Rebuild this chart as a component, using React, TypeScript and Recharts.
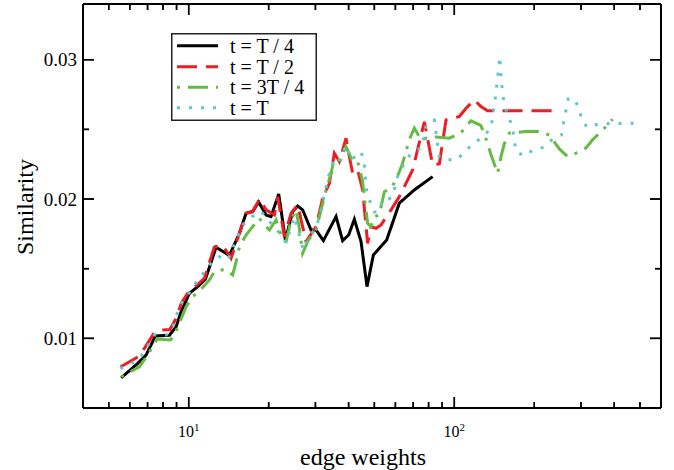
import React from 'react';
import { LineChart, Line, XAxis, YAxis, ReferenceLine } from 'recharts';

const FONT = '"Liberation Serif", "Times New Roman", Times, serif';

// t = T/4
const quarterW = [5.57, 6.43, 6.91, 7.49, 8.46, 8.97, 9.36, 10.06, 10.81, 11.56, 12.68, 14.23, 15.52, 16.44, 17.41, 18.34, 19.56, 20.42, 21.82, 23.12, 24.63, 25.72, 26.86, 28.88, 30.16, 32.14, 35.87, 37.98, 40.01, 42.04, 44.55, 46.92, 49.57, 55.63, 62.09, 70.71, 82.84];
const quarterS = [0.00717, 0.0082, 0.0088, 0.01017, 0.01022, 0.01083, 0.01191, 0.01323, 0.01371, 0.01424, 0.01654, 0.01595, 0.01754, 0.01898, 0.0191, 0.01979, 0.01886, 0.01874, 0.02037, 0.01706, 0.0191, 0.0195, 0.01922, 0.01778, 0.01778, 0.01701, 0.01874, 0.01701, 0.01742, 0.01855, 0.01694, 0.01371, 0.01598, 0.01706, 0.0197, 0.02065, 0.02161];

// t = T/2
const halfW = [5.53, 6.43, 6.81, 7.43, 7.99, 8.49, 8.97, 9.39, 9.91, 11.46, 12.49, 13.43, 14.44, 15.52, 16.44, 17.41, 18.45, 19.56, 21.02, 21.63, 22.92, 24.29, 25.72, 27.66, 28.46, 30.16, 31.94, 33.85, 35.35, 36.91, 39.11, 40.25, 41.41, 43.25, 45.17, 47.17, 48.58, 50.73, 52.98, 57.78, 62.09, 69.68, 77.12, 82.84, 87.81, 93.07, 98.54, 104.4, 110.7, 118.9, 126.0, 133.4, 248.5];
const halfS = [0.00794, 0.00866, 0.00928, 0.01042, 0.0106, 0.01063, 0.01144, 0.01254, 0.01323, 0.01431, 0.01656, 0.01667, 0.01575, 0.01754, 0.01898, 0.0191, 0.01999, 0.01922, 0.01886, 0.02017, 0.0173, 0.01898, 0.01958, 0.01694, 0.0173, 0.01802, 0.02006, 0.02113, 0.02329, 0.02269, 0.02437, 0.02305, 0.02185, 0.02209, 0.02065, 0.01682, 0.01802, 0.0179, 0.01814, 0.01922, 0.02017, 0.02209, 0.02554, 0.02245, 0.02252, 0.02568, 0.0258, 0.02592, 0.02652, 0.02712, 0.02664, 0.02633, 0.02633];

// t = 3T/4
const threeQW = [5.57, 6.52, 7.01, 7.59, 8.53, 8.84, 9.78, 10.35, 11.14, 11.97, 12.49, 13.63, 14.64, 15.08, 15.52, 16.44, 17.41, 18.45, 19.27, 20.13, 21.32, 22.58, 23.26, 24.29, 25.37, 26.1, 26.86, 28.22, 30.16, 31.5, 32.89, 34.36, 35.35, 36.91, 39.11, 41.41, 43.25, 45.04, 47.17, 48.58, 50.0, 52.2, 54.52, 57.78, 60.34, 63.88, 67.69, 70.71, 74.95, 78.27, 85.34, 95.76, 106.0, 110.7, 115.6, 125.8, 130.8, 137.5, 145.6, 149.9, 154.2, 161.1, 188.7, 208.9, 227.9, 248.5, 267.0, 295.5, 313.1, 331.5, 356.6, 383.2, 394.3];
const threeQS = [0.00724, 0.00796, 0.0088, 0.00995, 0.00988, 0.01024, 0.01227, 0.01299, 0.01352, 0.01419, 0.01478, 0.01496, 0.01455, 0.01548, 0.01658, 0.01742, 0.01802, 0.01862, 0.01814, 0.01778, 0.0185, 0.01706, 0.01694, 0.0185, 0.01922, 0.0179, 0.01611, 0.01706, 0.01778, 0.01922, 0.02065, 0.02185, 0.02293, 0.02281, 0.02376, 0.02269, 0.02269, 0.02137, 0.01826, 0.01802, 0.01874, 0.01886, 0.02053, 0.02078, 0.02137, 0.02257, 0.02425, 0.02509, 0.02425, 0.02437, 0.02446, 0.02437, 0.02475, 0.02525, 0.02561, 0.02529, 0.02448, 0.02317, 0.02185, 0.02305, 0.02396, 0.02473, 0.02486, 0.02484, 0.0246, 0.0236, 0.02305, 0.02338, 0.02367, 0.02425, 0.02484, 0.02545, 0.02573];

// t = T
const fullW = [5.53, 6.15, 6.62, 7.01, 7.43, 8.22, 8.71, 8.97, 9.36, 9.91, 10.51, 11.29, 11.97, 13.05, 14.02, 15.29, 16.2, 17.67, 18.73, 20.42, 22.28, 23.26, 24.99, 27.02, 28.05, 29.72, 31.04, 32.41, 33.85, 35.35, 37.46, 39.11, 40.84, 44.55, 45.85, 46.53, 47.88, 50.0, 52.2, 53.71, 56.1, 58.58, 61.17, 64.83, 68.71, 74.95, 77.12, 78.27, 84.1, 86.54, 87.81, 93.07, 102.9, 109.0, 117.9, 127.8, 137.5, 139.4, 143.5, 148.3, 150.3, 154.2, 160.1, 165.8, 170.7, 183.4, 198.3, 218.1, 234.4, 253.3, 257.8, 263.2, 268.5, 282.8, 295.5, 302.4, 317.4, 349.2, 480];
const fullS = [0.00784, 0.00825, 0.00873, 0.00945, 0.01024, 0.01024, 0.01079, 0.0116, 0.01251, 0.01311, 0.01383, 0.01462, 0.01527, 0.01586, 0.01562, 0.0173, 0.01826, 0.01886, 0.0191, 0.01826, 0.01742, 0.01685, 0.01874, 0.01634, 0.01706, 0.01778, 0.01862, 0.0203, 0.02185, 0.02293, 0.02281, 0.02389, 0.02281, 0.0234, 0.02257, 0.02078, 0.01994, 0.01907, 0.0191, 0.01994, 0.01994, 0.02017, 0.02161, 0.02257, 0.02329, 0.02365, 0.02448, 0.02532, 0.02565, 0.02389, 0.02302, 0.02281, 0.02284, 0.0234, 0.02396, 0.02446, 0.02509, 0.02592, 0.0276, 0.03023, 0.02843, 0.02676, 0.02592, 0.02509, 0.0234, 0.0231, 0.02353, 0.02372, 0.0243, 0.0246, 0.02549, 0.02635, 0.02719, 0.02721, 0.02645, 0.02561, 0.02513, 0.0254, 0.02545];

const xTicks = [5, 6, 7, 8, 9, 10, 20, 30, 40, 50, 60, 70, 80, 90, 100, 200, 300, 400, 500];
const yTicks = [0.01, 0.015, 0.02, 0.025, 0.03];
const X_DOMAIN = [4, 600];
const Y_DOMAIN = [0.005, 0.034];

const zip = (w: number[], s: number[]) => w.map((x, i) => ({ x, y: s[i] }));

const series = [
  { name: 't = T / 4', data: zip(quarterW, quarterS), color: '#000000', dash: undefined },
  { name: 't = T / 2', data: zip(halfW, halfS), color: '#ee1d24', dash: '20 9' },
  { name: 't = 3T / 4', data: zip(threeQW, threeQS), color: '#66bb44', dash: '3 8 20 8' },
  { name: 't = T', data: zip(fullW, fullS), color: '#5ec8c8', dash: '3 9' },
];

const isMajorX = (v: number) => v === 10 || v === 100;
const isMajorY = (v: number) => Math.abs(v * 100 - Math.round(v * 100)) < 1e-9;

// plot box is 578 x 404 px; turn an inward tick length in px into data units
const PLOT_W = 578;
const PLOT_H = 404;
const xFactor = (px: number) => Math.pow(X_DOMAIN[1] / X_DOMAIN[0], px / PLOT_W);
const yStep = (px: number) => ((Y_DOMAIN[1] - Y_DOMAIN[0]) * px) / PLOT_H;

function BottomTick({ x, y, payload }: any) {
  const v = payload.value;
  const major = isMajorX(v);
  return (
    <g>
      <path d={`M${x},${y}V${y - (major ? 11 : 6)}`} stroke="#000" strokeWidth={1.5} />
      {major && (
        <text x={x} y={y + 29} textAnchor="middle" fontFamily={FONT} fontSize={16} fill="#000">
          10<tspan dy={-6} fontSize={11}>{Math.round(Math.log10(v))}</tspan>
        </text>
      )}
    </g>
  );
}

function LeftTick({ x, y, payload }: any) {
  const v = payload.value;
  const major = isMajorY(v);
  return (
    <g>
      <path d={`M${x},${y}H${x + (major ? 11 : 6)}`} stroke="#000" strokeWidth={1.5} />
      {major && (
        <text x={x - 6} y={y + 6.5} textAnchor="end" fontFamily={FONT} fontSize={19} fill="#000">
          {v.toFixed(2)}
        </text>
      )}
    </g>
  );
}

function TopTick({ x, y, payload }: any) {
  const len = isMajorX(payload.value) ? 11 : 6;
  return <path d={`M${x},${y}V${y + len}`} stroke="#000" strokeWidth={1.5} />;
}

function RightTick({ x, y, payload }: any) {
  const len = isMajorY(payload.value) ? 11 : 6;
  return <path d={`M${x},${y}H${x - len}`} stroke="#000" strokeWidth={1.5} />;
}

function XTitle({ viewBox }: any) {
  const vb = viewBox || { x: 83, y: 408, width: 578, height: 62 };
  return (
    <text x={vb.x + vb.width / 2 - 9} y={vb.y + 57} textAnchor="middle" fontFamily={FONT} fontSize={24} fill="#000">
      edge weights
    </text>
  );
}

function YTitle({ viewBox }: any) {
  const vb = viewBox || { x: 0, y: 4, width: 83, height: 404 };
  const cx = vb.x + 33;
  const cy = vb.y + vb.height / 2 + 1;
  return (
    <text transform={`translate(${cx}, ${cy}) rotate(-90)`} textAnchor="middle" fontFamily={FONT} fontSize={24} fill="#000">
      Similarity
    </text>
  );
}

function LegendBox() {
  const rows = [12.7, 33.7, 54.3, 74.7];
  return (
    <div style={{ position: 'absolute', left: 171, top: 33, width: 146, height: 88 }}>
      <svg width={146} height={88}>
        <rect x={0.75} y={0.75} width={144.5} height={86.5} fill="#fff" stroke="#222" strokeWidth={1.5} />
        {series.map((s, i) => (
          <g key={s.name}>
            <path d={`M6,${rows[i]}H47`} stroke={s.color} strokeWidth={3} strokeDasharray={s.dash} />
            <text x={59} y={rows[i] + 7} fontFamily={FONT} fontSize={20} fill="#000">
              {s.name}
            </text>
          </g>
        ))}
      </svg>
    </div>
  );
}

// inward frame ticks as reference segments (same places as the axis ticks)
function frameTicks() {
  const out: React.ReactNode[] = [];
  xTicks.forEach((t) => {
    const len = isMajorX(t) ? 11 : 6;
    out.push(
      <ReferenceLine key={`b${t}`} segment={[{ x: t, y: Y_DOMAIN[0] }, { x: t, y: Y_DOMAIN[0] + yStep(len) }]} stroke="#000" strokeWidth={1.5} ifOverflow="visible" />,
      <ReferenceLine key={`t${t}`} segment={[{ x: t, y: Y_DOMAIN[1] }, { x: t, y: Y_DOMAIN[1] - yStep(len) }]} stroke="#000" strokeWidth={1.5} ifOverflow="visible" />
    );
  });
  yTicks.forEach((t) => {
    const len = isMajorY(t) ? 11 : 6;
    out.push(
      <ReferenceLine key={`l${t}`} segment={[{ x: X_DOMAIN[0], y: t }, { x: X_DOMAIN[0] * xFactor(len), y: t }]} stroke="#000" strokeWidth={1.5} ifOverflow="visible" />,
      <ReferenceLine key={`r${t}`} segment={[{ x: X_DOMAIN[1], y: t }, { x: X_DOMAIN[1] / xFactor(len), y: t }]} stroke="#000" strokeWidth={1.5} ifOverflow="visible" />
    );
  });
  return out;
}

export default function App() {
  const axisLine = { stroke: '#000', strokeWidth: 2 };
  return (
    <div style={{ position: 'absolute', left: 0, top: 0, width: 674, height: 470, background: '#fff' }}>
      <LineChart width={674} height={470} margin={{ top: 3, right: 12, bottom: 0, left: 0 }}>
        <XAxis
          dataKey="x"
          type="number"
          scale="log"
          domain={X_DOMAIN}
          allowDataOverflow
          ticks={xTicks}
          interval={0}
          height={62}
          tickSize={0}
          tickMargin={0}
          tickLine={false}
          axisLine={axisLine}
          tick={(p: any) => <BottomTick {...p} />}
          label={(p: any) => <XTitle {...p} />}
        />
        <XAxis
          xAxisId="top"
          orientation="top"
          dataKey="x"
          type="number"
          scale="log"
          domain={X_DOMAIN}
          allowDataOverflow
          ticks={xTicks}
          interval={0}
          height={1}
          tickSize={0}
          tickMargin={0}
          tickLine={false}
          axisLine={axisLine}
          tick={(p: any) => <TopTick {...p} />}
        />
        <YAxis
          type="number"
          domain={Y_DOMAIN}
          allowDataOverflow
          ticks={yTicks}
          interval={0}
          width={83}
          tickSize={0}
          tickMargin={0}
          tickLine={false}
          axisLine={axisLine}
          tick={(p: any) => <LeftTick {...p} />}
          label={(p: any) => <YTitle {...p} />}
        />
        <YAxis
          yAxisId="right"
          orientation="right"
          type="number"
          domain={Y_DOMAIN}
          allowDataOverflow
          ticks={yTicks}
          interval={0}
          width={1}
          tickSize={0}
          tickMargin={0}
          tickLine={false}
          axisLine={axisLine}
          tick={(p: any) => <RightTick {...p} />}
        />
        {frameTicks()}
        {series.map((s) => (
          <Line
            key={s.name}
            data={s.data}
            dataKey="y"
            type="linear"
            stroke={s.color}
            strokeWidth={3}
            strokeDasharray={s.dash}
            dot={false}
            activeDot={false}
            isAnimationActive={false}
          />
        ))}
      </LineChart>
      <LegendBox />
    </div>
  );
}
